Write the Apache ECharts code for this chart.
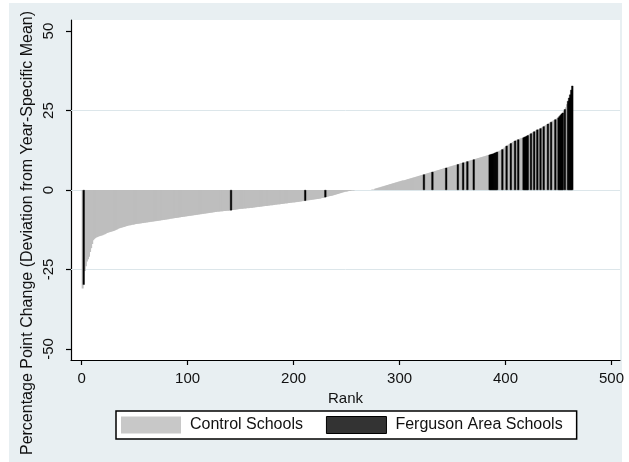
<!DOCTYPE html>
<html>
<head>
<meta charset="utf-8">
<script src="https://cdn.jsdelivr.net/npm/echarts@6/dist/echarts.min.js"></script>
<style>
html,body{margin:0;padding:0;background:#fff;}
#chart{width:629px;height:462px;}
</style>
</head>
<body>
<div id="chart"></div>
<script>
// Ranked school values (percentage point change, deviation from year-specific mean), rank = index + 1
const values = [
  -31.0,-29.8,-25.5,-24.0,-22.5,-21.8,-21.0,-19.5,-18.3,-17.0,-15.8,-15.4,
  -15.1,-14.9,-14.8,-14.6,-14.5,-14.4,-14.3,-14.2,-14.0,-13.9,
  -13.7,-13.5,-13.4,-13.3,-13.2,-13.1,-13.0,
  -12.9,-12.8,-12.6,-12.5,-12.3,-12.1,
  -12.0,-11.9,-11.8,-11.7,-11.6,-11.5,
  -11.4,-11.3,-11.2,-11.1,-11.1,-11.0,-10.9,-10.9,-10.8,-10.7,
  -10.7,-10.6,-10.6,-10.5,-10.5,-10.4,-10.4,-10.3,-10.3,-10.2,-10.2,-10.1,
  -10.1,-10.0,-10.0,-9.9,-9.9,-9.8,-9.8,-9.7,-9.7,-9.6,-9.6,-9.5,-9.5,
  -9.4,-9.4,-9.3,-9.3,-9.2,-9.2,-9.1,-9.0,-9.0,-8.9,-8.9,-8.8,
  -8.8,-8.7,-8.7,-8.6,-8.6,-8.5,-8.5,-8.4,-8.4,-8.3,-8.3,-8.2,-8.2,
  -8.1,-8.1,-8.0,-8.0,-7.9,-7.9,-7.8,-7.8,-7.7,-7.7,
  -7.6,-7.6,-7.5,-7.5,-7.4,-7.4,-7.3,-7.3,-7.2,-7.2,-7.1,-7.1,-7.0,-7.0,
  -6.9,-6.9,-6.8,-6.8,-6.8,-6.7,-6.7,-6.7,-6.6,-6.6,-6.6,-6.5,-6.5,-6.5,-6.4,-6.4,
  -6.3,-6.3,-6.2,-6.2,-6.1,-6.1,-6.0,-6.0,-5.9,-5.9,-5.9,-5.8,-5.8,-5.8,-5.7,-5.7,-5.7,-5.6,-5.6,-5.6,-5.5,-5.5,
  -5.4,-5.4,-5.3,-5.3,-5.3,-5.2,-5.2,-5.1,-5.1,-5.0,-5.0,-5.0,-4.9,-4.9,-4.8,-4.8,-4.8,-4.7,-4.7,
  -4.6,-4.6,-4.5,-4.5,-4.5,-4.4,-4.4,-4.3,-4.3,-4.2,-4.2,-4.2,-4.1,-4.1,-4.0,-4.0,-3.9,-3.9,-3.9,
  -3.8,-3.8,-3.7,-3.7,-3.6,-3.6,-3.5,-3.5,-3.4,-3.4,
  -3.3,-3.3,-3.2,-3.2,-3.1,-3.1,-3.0,-3.0,-2.9,-2.9,-2.8,-2.8,-2.7,-2.7,-2.6,-2.5,-2.5,-2.4,-2.3,
  -2.2,-2.1,-2.0,-1.9,-1.9,-1.8,-1.7,-1.6,-1.5,-1.4,-1.3,-1.2,-1.1,-1.0,-0.9,-0.8,-0.7,-0.6,-0.5,-0.5,-0.4,-0.3,-0.3,-0.2,-0.1,
  -0.1,-0.1,0,0,0,0,0,0,0,0,0,0,0,0,0,0,0,0,0.1,0.1,0.1,
  0.4,0.5,0.6,0.7,0.8,0.9,1.0,1.1,1.2,1.3,1.4,1.5,1.6,1.7,1.8,
  1.9,2.0,2.1,2.2,2.3,2.4,2.5,2.6,2.7,2.8,2.9,3.0,3.0,3.1,3.2,3.3,3.4,
  3.5,3.6,3.7,3.8,3.9,4.0,4.1,4.2,4.3,4.4,4.5,4.6,4.7,4.8,
  4.9,5.0,5.1,5.2,5.3,5.4,5.5,5.6,5.7,
  5.8,5.9,6.0,6.1,6.2,6.3,6.4,6.5,6.6,6.7,6.8,6.9,
  7.0,7.1,7.2,7.3,7.4,7.5,7.6,7.7,7.8,7.9,8.0,8.1,8.2,
  8.3,8.4,8.5,8.6,8.7,8.8,8.9,9.0,9.1,9.2,9.3,9.4,9.5,9.6,
  9.7,9.8,9.9,10.0,10.1,10.2,10.3,10.4,10.5,10.6,10.7,10.8,10.9,11.0,11.1,11.2,11.3,
  11.4,11.5,11.7,11.8,12.0,12.1,12.3,12.4,12.6,
  12.8,13.0,13.3,13.6,13.9,
  14.1,14.3,14.5,14.7,14.9,15.1,15.3,15.5,
  15.7,15.8,15.9,16.0,16.2,16.3,16.4,16.5,16.7,16.8,17.0,17.2,17.4,17.6,
  17.8,18.0,18.2,18.4,18.6,18.8,19.0,19.1,
  19.2,19.4,19.6,19.8,20.0,20.2,20.4,20.6,20.8,
  21.0,21.2,21.4,21.6,21.8,22.0,22.2,22.4,22.6,22.8,
  23.2,23.6,24.0,24.3,
  24.8,25.4,26.0,
  27.0,28.0,29.0,30.0,
  31.5,32.8
];

// Ranks of Ferguson area schools
const fergusonRanks = [2,141,211,230,323,331,344,355,360,364,370,
  385,386,387,388,389,390,391,392,397,401,405,409,412,
  417,418,419,420,421,424,427,430,433,436,440,443,447,
  450,451,452,453,454,456,459,460,461,462,463];

const seriesNames = ['Control Schools', 'Ferguson Area Schools'];
const xTicks = [0, 100, 200, 300, 400, 500];
const yTicks = [-50, -25, 0, 25, 50];
const gridValues = [-25, 0, 25];
const xTitle = 'Rank';
const yTitle = 'Percentage Point Change (Deviation from Year-Specific Mean)';

const fergSet = new Set(fergusonRanks);
const controlData = values.map((v, i) => fergSet.has(i + 1) ? [i + 1, '-'] : [i + 1, v]);
const fergData = values.map((v, i) => fergSet.has(i + 1) ? [i + 1, v] : [i + 1, '-']);

const FONT = 'Liberation Sans, Arial, Helvetica, sans-serif';
const chart = echarts.init(document.getElementById('chart'), null, {renderer: 'canvas'});

chart.setOption({
  animation: false,
  backgroundColor: '#ffffff',
  graphic: [
    {type: 'rect', z: -100, silent: true,
     shape: {x: 9, y: 3, width: 613, height: 459},
     style: {fill: '#e8eff2'}},
    {type: 'text', z: 100, silent: true,
     x: 28, y: 233, rotation: Math.PI / 2,
     style: {text: yTitle, fontSize: 16, fontFamily: FONT, fill: '#111',
             align: 'center', verticalAlign: 'middle'}}
  ],
  grid: {left: 71, right: 9, top: 20, bottom: 102, show: true,
         backgroundColor: '#ffffff', borderWidth: 0},
  legend: {
    left: 116, top: 411, orient: 'horizontal',
    itemWidth: 60, itemHeight: 17, itemGap: 23,
    padding: [5, 14, 5, 5],
    borderColor: '#000', borderWidth: 1.5, backgroundColor: '#ffffff',
    icon: 'rect',
    textStyle: {fontSize: 16, fontFamily: FONT, color: '#111', padding: [0, 0, 0, 4]},
    data: [
      {name: seriesNames[0], itemStyle: {color: '#c8c8c8', borderWidth: 0}},
      {name: seriesNames[1], itemStyle: {color: '#333333', borderColor: '#000', borderWidth: 1}}
    ]
  },
  xAxis: {
    type: 'value', min: -10, max: 508,
    name: xTitle, nameLocation: 'middle', nameGap: 20,
    nameTextStyle: {fontSize: 15, fontFamily: FONT, color: '#111'},
    axisLine: {show: true, onZero: false, lineStyle: {color: '#000', width: 1.2}},
    axisTick: {show: true, length: 5, customValues: xTicks, lineStyle: {color: '#000', width: 1.2}},
    axisLabel: {customValues: xTicks, margin: 11, fontSize: 15, fontFamily: FONT, color: '#111'},
    splitLine: {show: false}
  },
  yAxis: {
    type: 'value', min: -53.5, max: 53.5,
    axisLine: {show: true, onZero: false, lineStyle: {color: '#000', width: 1.2}},
    axisTick: {show: true, length: 5, customValues: yTicks, lineStyle: {color: '#000', width: 1.2}},
    axisLabel: {customValues: yTicks, rotate: 90, margin: 15, fontSize: 15, fontFamily: FONT, color: '#111'},
    splitLine: {show: false}
  },
  series: [
    {
      type: 'line', data: [], z: 1, silent: true,
      markLine: {
        z: 1, silent: true, symbol: 'none', label: {show: false},
        lineStyle: {color: '#dce6ea', width: 1, type: 'solid'},
        data: gridValues.map(v => ({yAxis: v}))
      }
    },
    {
      name: seriesNames[0], type: 'bar', z: 2, data: controlData,
      barWidth: 2, barGap: '-100%',
      itemStyle: {color: '#bebebe'}
    },
    {
      name: seriesNames[1], type: 'bar', z: 3, data: fergData,
      barWidth: 2, barGap: '-100%',
      itemStyle: {color: '#000000', borderColor: '#000000', borderWidth: 0.4}
    }
  ]
});
</script>
</body>
</html>
